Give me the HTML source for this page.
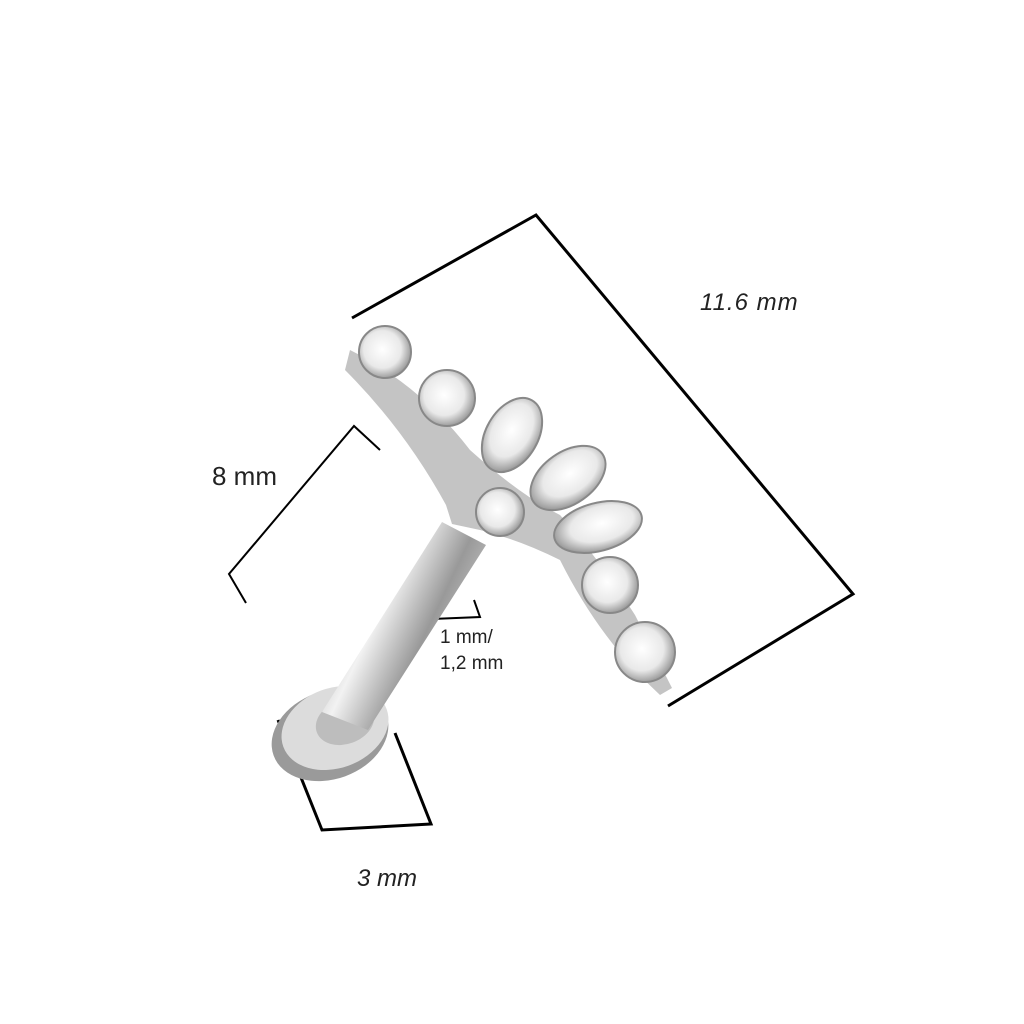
<!DOCTYPE html>
<html><head><style>body{margin:0;background:#fff}svg{display:block}</style></head><body>
<svg width="1024" height="1024" viewBox="0 0 1024 1024" xmlns="http://www.w3.org/2000/svg">
<defs>
<linearGradient id="bar" x1="0" y1="0" x2="1" y2="0.6">
<stop offset="0" stop-color="#7a7a7a"/><stop offset="0.45" stop-color="#f2f2f2"/><stop offset="0.7" stop-color="#999"/><stop offset="1" stop-color="#d8d8d8"/>
</linearGradient>
<radialGradient id="gem" cx="0.45" cy="0.45" r="0.6"><stop offset="0" stop-color="#fff"/><stop offset="0.6" stop-color="#e9e9e9"/><stop offset="1" stop-color="#8a8a8a"/></radialGradient>
</defs>
<g fill="none" stroke="#000" stroke-width="3">
<polyline points="352,318 536,215 853,594 668,706"/>
<polyline points="380,450 354,426 229,574 246,603" stroke-width="2"/>
<polyline points="424,602 432,619 480,617 474,600" stroke-width="2"/>
<polyline points="278,720 322,830 431,824 395,733"/>
</g>
<ellipse cx="330" cy="735" rx="60" ry="44" transform="rotate(-20 330 735)" fill="#9a9a9a"/>
<ellipse cx="335" cy="728" rx="55" ry="40" transform="rotate(-20 335 728)" fill="#dcdcdc"/>
<ellipse cx="345" cy="722" rx="30" ry="22" transform="rotate(-20 345 722)" fill="#bdbdbd"/>
<polygon points="322,712 442,522 486,545 368,730" fill="url(#bar)"/>
<path d="M350,350 Q420,385 470,450 Q520,495 560,515 Q600,560 635,615 L672,688 L660,695 Q600,640 560,560 Q520,540 480,530 L452,524 L446,505 Q405,430 345,370 Z" fill="#c4c4c4"/>
<g stroke="#888" stroke-width="2" fill="url(#gem)">
<circle cx="385" cy="352" r="26"/>
<circle cx="447" cy="398" r="28"/>
<ellipse cx="512" cy="435" rx="26" ry="40" transform="rotate(30 512 435)"/>
<ellipse cx="568" cy="478" rx="26" ry="42" transform="rotate(55 568 478)"/>
<circle cx="500" cy="512" r="24"/>
<ellipse cx="598" cy="527" rx="24" ry="45" transform="rotate(75 598 527)"/>
<circle cx="610" cy="585" r="28"/>
<circle cx="645" cy="652" r="30"/>
</g>
<g font-family="Liberation Sans, sans-serif" fill="#222">
<text x="700" y="310" font-size="24" font-style="italic" letter-spacing="1">11.6 mm</text>
<text x="212" y="485" font-size="26">8 mm</text>
<text x="440" y="643" font-size="19">1 mm/</text>
<text x="440" y="669" font-size="19">1,2 mm</text>
<text x="357" y="886" font-size="24" font-style="italic">3 mm</text>
</g>
</svg>
</body></html>
